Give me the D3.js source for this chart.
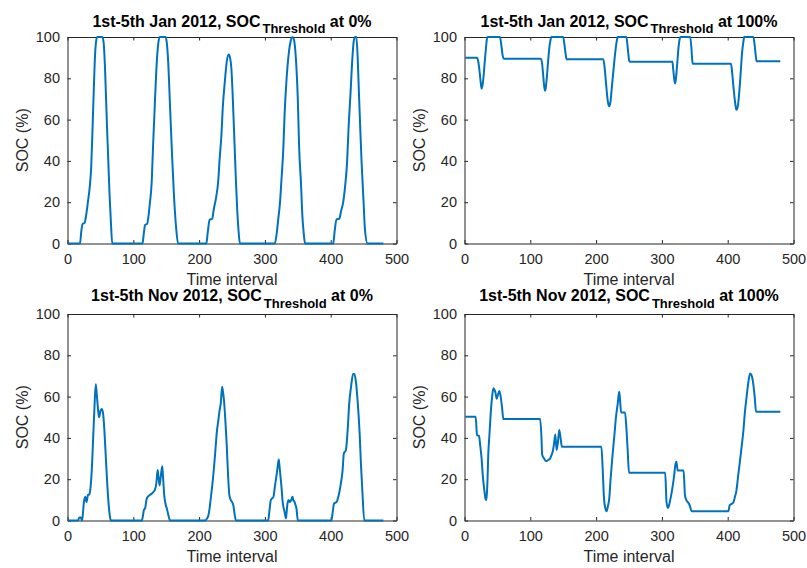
<!DOCTYPE html>
<html>
<head>
<meta charset="utf-8">
<script src="https://cdn.jsdelivr.net/npm/d3@7"></script>
<style>
  body { margin: 0; background: #fff; }
  text { font-family: "Liberation Sans", Arial, Helvetica, sans-serif; }
</style>
</head>
<body>
<div id="chart"></div>
<script>
const WIDTH = 807
const HEIGHT = 568

// ticks
const xTicks = [0, 100, 200, 300, 400, 500]
const yTicks = [0, 20, 40, 60, 80, 100]

// 1st-5th Jan 2012, threshold 0%
const tJan0 = [1, 19, 21, 23, 26, 28, 31, 34, 36, 38, 40, 42, 44, 45, 53, 55, 57, 60, 62, 64, 66, 68,
  114, 116, 118, 121, 123, 125, 128, 130, 132, 135, 138, 140, 149, 151, 153, 156, 159, 162, 165, 168,
  211, 213, 216, 220, 222, 226, 229, 231, 234, 236, 239, 242, 245, 247, 249, 251, 254, 256, 258, 260, 262,
  315, 318, 320, 323, 325, 328, 330, 333, 337, 340, 342, 344, 347, 350, 352, 355, 357, 359, 361,
  404, 406, 409, 413, 416, 419, 422, 425, 427, 430, 433, 435, 437, 439, 441, 443, 445, 447, 450, 452, 456, 480]
const socJan0 = [0, 0, 6, 9.5, 10, 13, 20, 28, 37, 55, 75, 92, 99, 100, 100, 97, 85, 57, 40, 23, 10, 0,
  0, 5, 9, 9.5, 13, 19, 30, 47, 62, 84, 97, 100, 100, 97, 88, 65, 42, 22, 8, 0,
  0, 5, 11.5, 12, 16, 22.6, 30, 40, 53, 66, 78, 88, 91.5, 90, 85, 72, 47, 30, 16, 6, 0,
  0, 5, 11, 20, 30, 46, 63, 80, 94, 99, 100, 99, 90, 70, 47, 28, 13, 5, 0,
  0, 6, 11.8, 12, 16, 20, 28, 40, 55, 72, 90, 98, 100, 100, 90, 72, 55, 39, 20, 7, 0, 0]

// 1st-5th Jan 2012, threshold 100%
const tJan100 = [1, 19, 21, 23, 25, 26, 27, 29, 31, 33, 34, 35, 54, 56, 58, 60,
  116, 118, 120, 122, 123, 125, 127, 129, 131, 132, 150, 152, 154, 155,
  211, 213, 215, 217, 219, 220, 222, 224, 227, 230, 232, 233, 246, 248, 250, 251,
  316, 317, 319, 320, 321, 323, 325, 327, 328, 343, 345, 346, 347,
  405, 407, 409, 411, 413, 414, 416, 418, 420, 422, 424, 425, 439, 441, 443, 444, 480]
const socJan100 = [90, 90, 88, 83, 77, 75, 76, 81, 89, 96, 99, 100, 100, 96, 91, 89.5,
  89.5, 87, 80, 74, 74.5, 80, 88, 95, 99, 100, 100, 96, 91, 89.2,
  89.2, 85, 78, 71, 67, 66.5, 69, 76, 86, 95, 99, 100, 100, 95, 89, 88,
  88, 85, 79, 77.5, 79, 86, 94, 99, 100, 100, 94, 89, 87,
  87, 82, 75, 69, 65, 64.8, 68, 75, 84, 93, 98, 100, 100, 96, 90, 88.2, 88.2]

// 1st-5th Nov 2012, threshold 0%
const tNov0 = [1, 16, 18, 20, 22, 23, 25, 27, 28, 29, 31, 33, 35, 37, 39, 41, 43, 45, 47, 48, 50, 52, 54, 56, 58, 60, 62, 64, 66,
  113, 115, 116, 118, 120, 121, 125, 130, 133, 135, 137, 138, 140, 142, 144, 145, 147, 149, 151, 153, 156,
  209, 212, 214, 216, 218, 220, 223, 225, 227, 229, 231, 233, 235, 236, 238, 240, 242, 244, 246, 248, 250, 252, 254, 256,
  305, 307, 309, 313, 315, 317, 319, 321, 322, 323, 325, 327, 330, 332, 333, 334, 336, 338, 340, 342, 343, 345, 347, 348, 350,
  401, 403, 405, 409, 412, 415, 418, 420, 423, 426, 428, 431, 434, 436, 438, 441, 444, 446, 448, 451, 480]
const socNov0 = [0, 0, 1.5, 1.5, 0, 2, 9, 11.5, 10, 9, 12.3, 12.6, 16, 25, 40, 55, 66, 59, 52, 50, 53, 54, 52, 44, 32, 20, 10, 3, 0,
  0, 3, 5, 6, 10, 11, 12.3, 13.6, 15, 18, 24.4, 22, 17, 22, 26.3, 22, 12.3, 8, 5.8, 3, 0,
  0, 1, 2.3, 6, 11.5, 17, 27, 35, 43, 48, 53, 57, 64.8, 63, 57.5, 48, 36.5, 22, 12.3, 10, 9, 7.4, 3, 0,
  0, 5, 9.9, 11.5, 16, 20.4, 25, 29.6, 27, 23.6, 17, 9, 4, 1, 4, 7.4, 9.9, 9, 10, 11.5, 10, 9, 7, 5.8, 0,
  0, 4, 8.2, 9, 12, 17, 24, 32.5, 34, 45, 56, 65, 71, 71, 68, 57.5, 42, 27, 15, 0, 0]

// 1st-5th Nov 2012, threshold 100%
const tNov100 = [1, 17, 19, 22, 24, 26, 28, 30, 32, 33, 34, 35, 36, 38, 40, 42, 44, 46, 47, 49, 51, 53, 55, 57, 59,
  115, 117, 118, 121, 123, 125, 128, 130, 132, 134, 136, 138, 140, 142, 144, 146, 148,
  208, 210, 212, 214, 216, 218, 220, 222, 225, 228, 230, 233, 235, 236, 238, 244, 246, 248, 250,
  305, 307, 309, 310, 312, 315, 317, 319, 320, 322, 324, 333, 335, 337, 339, 341, 343, 345,
  401, 403, 405, 407, 409, 411, 413, 416, 418, 420, 422, 424, 426, 429, 431, 434, 436, 438, 441, 443, 480]
const socNov100 = [50.2, 50.2, 41.4, 41, 36, 30, 21, 15, 10.5, 9.9, 13, 20, 31, 42, 52.7, 60, 64, 63, 62, 59, 61, 62.7, 60, 55, 49.1,
  49.1, 40, 32, 30, 29, 28.8, 29.5, 30, 31.5, 33.3, 37, 41.7, 34.1, 38, 43.8, 40, 35.7,
  35.7, 25, 10.7, 6, 4.5, 7, 10.7, 20, 31.7, 42, 49.4, 57, 62.4, 60, 52.3, 52.3, 45, 34, 23.1,
  23.1, 9, 6.1, 6.5, 9, 13.9, 18, 22.8, 26, 28.4, 24.2, 24.2, 12.3, 10, 9, 8.2, 6.6, 4.5,
  4.5, 7.4, 7.9, 8.2, 9, 11.5, 14, 22, 27, 32.5, 38, 44, 52, 60.7, 66, 71.2, 70.5, 68, 60, 52.7, 52.7]

const W = 329
const H = 206.5

const panels = [
  { left: 67.5, top: 37, titleY: 26.5, t: tJan0, soc: socJan0, title: "1st-5th Jan 2012, SOC", pct: "0%" },
  { left: 464.5, top: 37, titleY: 26.5, t: tJan100, soc: socJan100, title: "1st-5th Jan 2012, SOC", pct: "100%" },
  { left: 67.5, top: 314, titleY: 301, t: tNov0, soc: socNov0, title: "1st-5th Nov 2012, SOC", pct: "0%" },
  { left: 464.5, top: 314, titleY: 301, t: tNov100, soc: socNov100, title: "1st-5th Nov 2012, SOC", pct: "100%" }
]

const svg = d3.select("#chart")
  .append("svg")
  .attr("width", WIDTH)
  .attr("height", HEIGHT)

const AX = "#262626"

panels.forEach(p => {
  const x = d3.scaleLinear().domain([0, 500]).range([p.left, p.left + W])
  const y = d3.scaleLinear().domain([0, 100]).range([p.top + H, p.top])
  const g = svg.append("g")

  // axes (box with inward ticks)
  g.append("g")
    .attr("transform", `translate(0,${p.top + H})`)
    .call(d3.axisBottom(x).tickValues(xTicks).tickSizeInner(-3.5).tickSizeOuter(0).tickPadding(10))
  g.append("g")
    .attr("transform", `translate(0,${p.top})`)
    .call(d3.axisTop(x).tickValues(xTicks).tickSizeInner(-3.5).tickSizeOuter(0).tickFormat(() => ""))
  g.append("g")
    .attr("transform", `translate(${p.left},0)`)
    .call(d3.axisLeft(y).tickValues(yTicks).tickSizeInner(-3.5).tickSizeOuter(0).tickPadding(7.5))
  g.append("g")
    .attr("transform", `translate(${p.left + W},0)`)
    .call(d3.axisRight(y).tickValues(yTicks).tickSizeInner(-3.5).tickSizeOuter(0).tickFormat(() => ""))

  g.selectAll(".domain, .tick line").attr("stroke", AX).attr("stroke-width", 1)
  g.selectAll(".tick text").attr("fill", AX).style("font-size", "14.5px")
    .style("font-family", '"Liberation Sans", Arial, sans-serif')

  // line
  const pts = p.t.map((d, i) => [d, p.soc[i]])
  const line = d3.line()
    .x(d => x(d[0]))
    .y(d => y(d[1]))
    .curve(d3.curveMonotoneX)
  g.append("path")
    .datum(pts)
    .attr("fill", "none")
    .attr("stroke", "#0072BD")
    .attr("stroke-width", 2)
    .attr("stroke-linejoin", "round")
    .attr("d", line)

  // title with subscript
  const title = g.append("text")
    .attr("x", p.left + W / 2)
    .attr("y", p.titleY)
    .attr("text-anchor", "middle")
    .attr("fill", "#000")
    .style("font-weight", "bold")
    .style("font-size", "16px")
  title.append("tspan").text(p.title)
  title.append("tspan").attr("dy", 6.5).attr("dx", 2).style("font-size", "13px").text("Threshold")
  title.append("tspan").attr("dy", -6.5).text(" at " + p.pct)

  // axis labels
  g.append("text")
    .attr("x", p.left + W / 2)
    .attr("y", p.top + H + 41.5)
    .attr("text-anchor", "middle")
    .attr("fill", AX)
    .style("font-size", "16px")
    .text("Time interval")
  g.append("text")
    .attr("transform", `translate(${p.left - 40},${p.top + H / 2}) rotate(-90)`)
    .attr("text-anchor", "middle")
    .attr("fill", AX)
    .style("font-size", "16px")
    .text("SOC (%)")
})
</script>
</body>
</html>
